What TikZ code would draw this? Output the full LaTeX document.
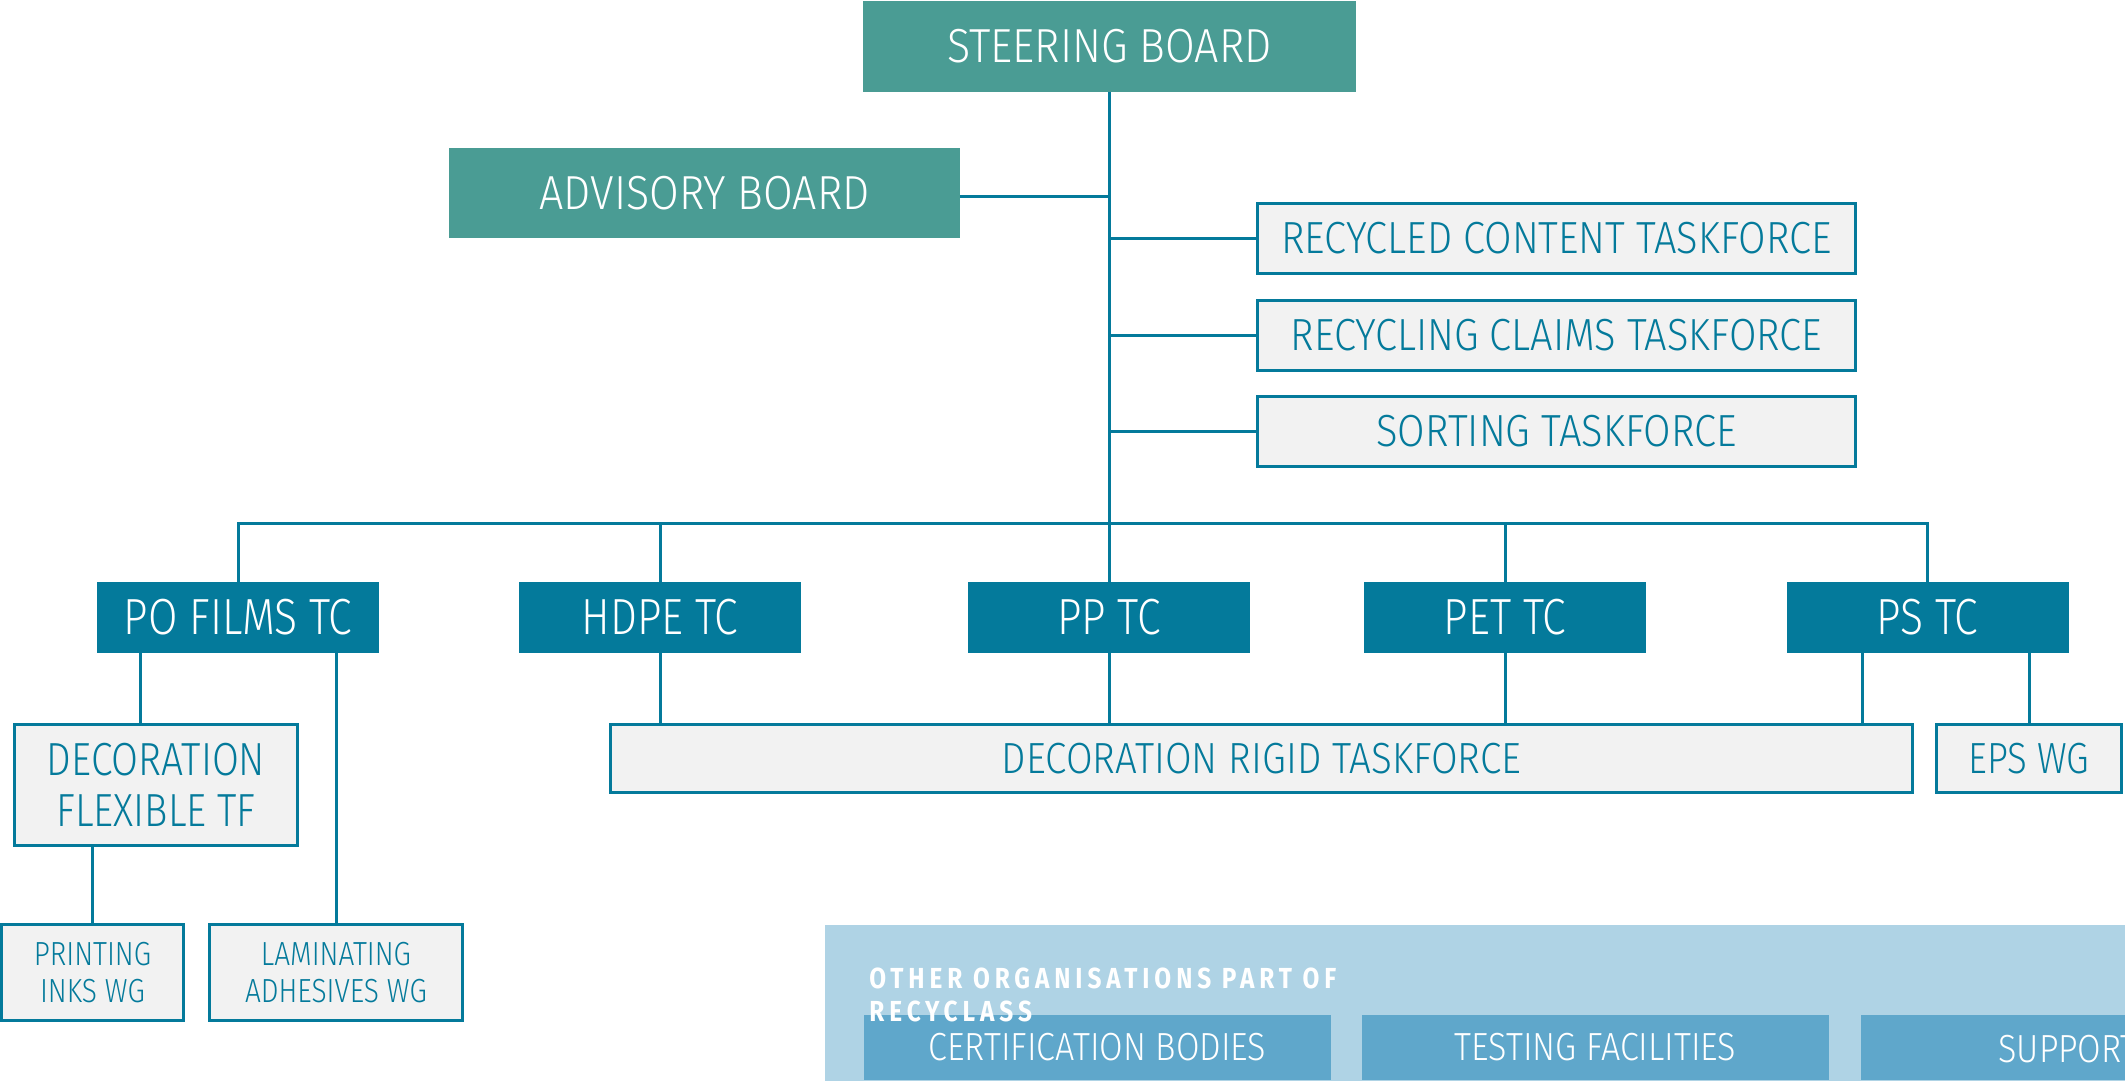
\documentclass[tikz,border=0pt]{standalone}
\usepackage{fontspec}
\setmainfont{Fira Sans}[UprightFont=* Light, FakeStretch=0.84]
\newfontfamily\boardfont{Fira Sans}[UprightFont=* Light, FakeStretch=0.90]
\newfontfamily\tffont{Fira Sans}[UprightFont=* Light, FakeStretch=0.885]
\newfontfamily\ofont{Fira Sans}[UprightFont=* Light, FakeStretch=0.87]
\newfontfamily\orgfont{Fira Sans}[FakeStretch=0.84,LetterSpace=17]
\definecolor{tealb}{HTML}{047A9B}
\definecolor{boardg}{HTML}{4A9C94}
\definecolor{boxgray}{HTML}{F2F2F2}
\definecolor{panelb}{HTML}{AFD3E5}
\definecolor{innerb}{HTML}{5FA7CB}
\begin{document}
\begin{tikzpicture}[x=0.5pt,y=-0.5pt,
  board/.style={fill=boardg, text=white, inner sep=0, font=\boardfont\fontsize{23.9}{28}\selectfont},
  tcbox/.style={fill=tealb, text=white, inner sep=0, minimum width=141pt, minimum height=35.5pt, font=\fontsize{25.4}{30}\selectfont},
  gbox/.style={fill=boxgray, draw=tealb, line width=1.5pt, text=tealb, inner sep=0, align=center},
  tfbox/.style={gbox, minimum width=299pt, minimum height=35pt, font=\tffont\fontsize{22.5}{26}\selectfont},
  obox/.style={fill=innerb, text=white, inner sep=0, minimum width=233.5pt, minimum height=32.5pt, font=\ofont\fontsize{19.6}{23}\selectfont},
  conn/.style={draw=tealb, line width=1.5pt}]
\useasboundingbox (0,0) rectangle (2125,1081);
\clip (0,0) rectangle (2125,1081);
\fill[white] (0,0) rectangle (2125,1081);

% boards
\node[board, minimum width=246.5pt, minimum height=45.5pt] (steer) at (1109.5,46.5) {STEERING BOARD};
\node[board, minimum width=255.5pt, minimum height=44.5pt] (adv) at (704.5,193) {ADVISORY BOARD};

% taskforces
\node[tfbox] (rc) at (1556.5,238.5) {RECYCLED CONTENT TASKFORCE};
\node[tfbox] (rcl) at (1556.5,335) {RECYCLING CLAIMS TASKFORCE};
\node[tfbox] (sort) at (1556.5,431.5) {SORTING TASKFORCE};

% technical committees
\node[tcbox] (pofilms) at (238,617.5) {PO FILMS TC};
\node[tcbox] (hdpe) at (660,617.5) {HDPE TC};
\node[tcbox] (pp) at (1109,617.5) {PP TC};
\node[tcbox] (pet) at (1505,617.5) {PET TC};
\node[tcbox] (ps) at (1927.5,617.5) {PS TC};

\coordinate (bus) at (1109,523);

% lower boxes
\node[gbox, minimum width=141.5pt, minimum height=60.5pt, font=\fontsize{23.2}{25.5}\selectfont] (decflex) at (156,785) {DECORATION\\FLEXIBLE TF};
\node[gbox, minimum width=91pt, minimum height=48pt, font=\fontsize{16.7}{18.5}\selectfont] (printing) at (92.5,972.5) {PRINTING\\INKS WG};
\node[gbox, minimum width=126.5pt, minimum height=48pt, font=\fontsize{16.7}{18.5}\selectfont] (lamin) at (336,972.5) {LAMINATING\\ADHESIVES WG};
\node[gbox, minimum width=651pt, minimum height=34pt, font=\tffont\fontsize{21.8}{25}\selectfont] (decrig) at (1261.5,758.5) {DECORATION RIGID TASKFORCE};
\node[gbox, minimum width=92.5pt, minimum height=34pt, font=\fontsize{21.8}{25}\selectfont] (eps) at (2029,758.5) {EPS WG};

% connectors
\draw[conn] (steer.south) -- (steer.south |- bus);
\draw[conn] ([yshift=-1.5pt]adv.east) -- ([yshift=-1.5pt]adv.east -| steer.south);
\draw[conn] (rc.west) -- (rc.west -| steer.south);
\draw[conn] (rcl.west) -- (rcl.west -| steer.south);
\draw[conn] (sort.west) -- (sort.west -| steer.south);
\draw[conn] (pofilms.north) -- (pofilms.north |- bus) -- (ps.north |- bus) -- (ps.north);
\draw[conn] (hdpe.north) -- (hdpe.north |- bus);
\draw[conn] (pp.north) -- (pp.north |- bus);
\draw[conn] (pet.north) -- (pet.north |- bus);
\draw[conn] ([xshift=-49pt]pofilms.south) -- ([xshift=-49pt]pofilms.south |- decflex.north);
\draw[conn] (lamin.north) -- (lamin.north |- pofilms.south);
\draw[conn] (printing.north) -- (printing.north |- decflex.south);
\draw[conn] (hdpe.south) -- (hdpe.south |- decrig.north);
\draw[conn] (pp.south) -- (pp.south |- decrig.north);
\draw[conn] (pet.south) -- (pet.south |- decrig.north);
\draw[conn] ([xshift=-32.75pt]ps.south) -- ([xshift=-32.75pt]ps.south |- decrig.north);
\draw[conn] (eps.north) -- (eps.north |- ps.south);

% other organisations panel
\fill[panelb] (825,925) rectangle (2300,1200);
\node[obox] (cert) at (1097.5,1047.5) {CERTIFICATION BODIES};
\node[obox] (test) at (1595.5,1047.5) {TESTING FACILITIES};
\node[obox] (support) at (2094.5,1047.5) {};
\node[anchor=base west, inner sep=0, text=white, font=\ofont\fontsize{19.6}{23}\selectfont] (supporttxt) at (1998,1062) {SUPPORT};
\node[anchor=north west, inner sep=0, align=left, text=white, font=\orgfont\bfseries\fontsize{14.5}{16.5}\selectfont] (other) at (869,967) {OTHER ORGANISATIONS PART OF\\RECYCLASS};
\end{tikzpicture}
\end{document}
